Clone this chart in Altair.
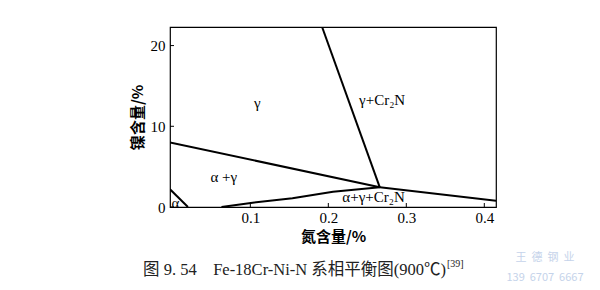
import altair as alt
import pandas as pd

# Phase boundary lines (nitrogen %, nickel %)
seg_id = ["g_gc", "g_gc", "ag_g", "ag_g", "r", "r", "low", "low", "low", "low", "low", "a", "a"]
n_pct = [0.192, 0.266, -0.003, 0.266, 0.266, 0.415, 0.063, 0.103, 0.154, 0.206, 0.266, -0.003, 0.020]
ni_pct = [22.3, 2.44, 8.0, 2.44, 2.44, 0.78, 0.0, 0.53, 1.08, 1.9, 2.44, 2.2, 0.0]
order = list(range(len(seg_id)))

# Region labels
lab_text = ["γ", "γ+Cr₂N", "α +γ", "α+γ+Cr₂N", "α"]
lab_n = [0.109, 0.269, 0.066, 0.258, 0.004]
lab_ni = [12.9, 13.3, 3.7, 1.3, 0.5]

x_ticks = [0.1, 0.2, 0.3, 0.4]
y_ticks = [0, 10, 20]

NB = "\u00a0"
caption = "图" + NB + "9." + NB + "54" + NB * 4 + "Fe-18Cr-Ni-N" + NB + "系相平衡图(900℃)"
cite = "[39]"
wm1 = NB.join(["王", "", "德", "", "钢", "", "业"])
wm2 = "139" + NB * 2 + "6707" + NB * 2 + "6667"

XD = [-0.003, 0.415]
YD = [0, 22.3]
W, H = 326, 180
serif = "Liberation Serif, Noto Sans CJK SC"

xs = alt.Scale(domain=XD, nice=False, zero=False)
ys = alt.Scale(domain=YD, nice=False, zero=False)

lines_df = pd.DataFrame({"seg": seg_id, "n": n_pct, "ni": ni_pct, "o": order})
lines = alt.Chart(lines_df).mark_line(color="black", strokeWidth=2, clip=True).encode(
    x=alt.X("n:Q", scale=xs, axis=alt.Axis(
        values=x_ticks, title="氮含量/%", format=".1f", ticks=False, domain=False, grid=False,
        labelFont="Liberation Serif", labelFontSize=15, labelColor="black", labelPadding=3,
        titleFont="Noto Sans CJK SC", titleFontSize=15, titleFontWeight="bold", titleColor="black",
        titlePadding=4)),
    y=alt.Y("ni:Q", scale=ys, axis=alt.Axis(
        values=y_ticks, title="镍含量/%", ticks=False, domain=False, grid=False,
        labelFont="Liberation Serif", labelFontSize=15, labelColor="black", labelPadding=5,
        titleFont="Noto Sans CJK SC", titleFontSize=15, titleFontWeight="bold", titleColor="black",
        titlePadding=5)),
    detail="seg:N",
    order="o:Q",
)

labels_df = pd.DataFrame({"t": lab_text, "n": lab_n, "ni": lab_ni})
labels = alt.Chart(labels_df).mark_text(
    font="Liberation Serif", fontSize=15, color="black", align="center", baseline="middle"
).encode(x=alt.X("n:Q", scale=xs), y=alt.Y("ni:Q", scale=ys), text="t:N")

xt = alt.Chart(pd.DataFrame({"v": x_ticks})).mark_rule(color="black", strokeWidth=1).encode(
    x=alt.X("v:Q", scale=xs), y=alt.value(H), y2=alt.value(H - 4))
yt = alt.Chart(pd.DataFrame({"v": y_ticks})).mark_rule(color="black", strokeWidth=1).encode(
    y=alt.Y("v:Q", scale=ys), x=alt.value(0), x2=alt.value(4))

cap = alt.Chart(pd.DataFrame({"t": [caption]})).mark_text(
    font=serif, fontSize=16.5, color="#222222", align="left", baseline="middle"
).encode(text="t:N", x=alt.value(-27), y=alt.value(243))
cit = alt.Chart(pd.DataFrame({"t": [cite]})).mark_text(
    font=serif, fontSize=10, color="#222222", align="left", baseline="middle"
).encode(text="t:N", x=alt.value(277), y=alt.value(237))
wm = alt.Chart(pd.DataFrame({"t": [wm1, wm2], "yy": [231, 251]})).mark_text(
    font="Noto Sans CJK SC", fontSize=11, color="#c5d3ea", align="center", baseline="middle"
).encode(text="t:N", x=alt.value(375), y=alt.Y("yy:Q", scale=None))

chart = alt.layer(lines, labels, xt, yt, cap, cit, wm).properties(
    width=W, height=H,
    background="white",
    autosize=alt.AutoSizeParams(type="none"),
    padding={"left": 170, "top": 27, "right": 104, "bottom": 83},
).configure_view(stroke="black", strokeWidth=1.2).configure_axis(
    labelFont="Liberation Serif", labelFontSize=15
)

chart.save("out.html", embed_options={"renderer": "svg", "actions": False})
